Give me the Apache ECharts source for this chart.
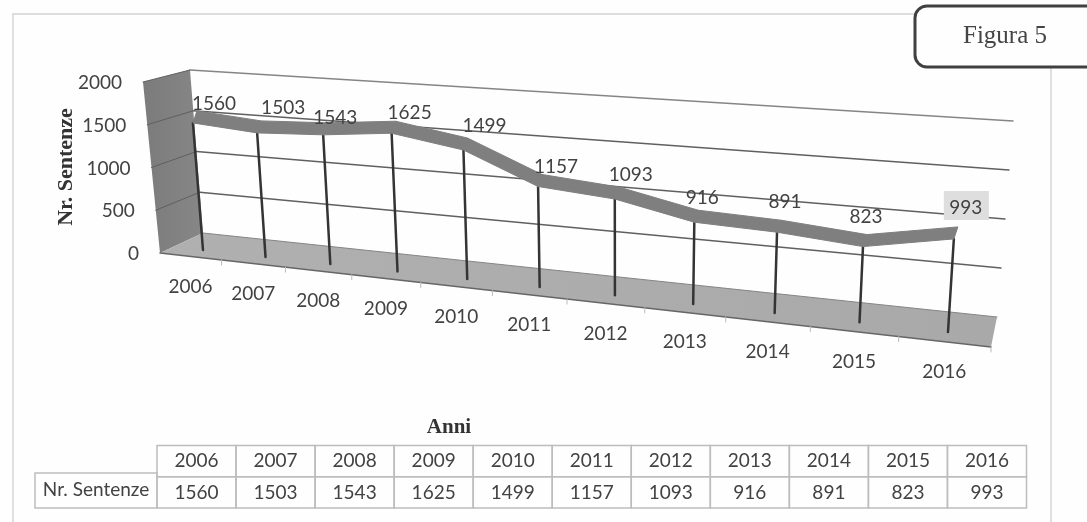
<!DOCTYPE html>
<html><head><meta charset="utf-8">
<style>html,body{margin:0;padding:0;background:#fefefe}#c{width:1087px;height:522px}</style>
<script src="https://cdn.jsdelivr.net/npm/echarts@6/dist/echarts.min.js"></script>
</head><body><div id="c"></div>
<script>
// ---- data ----
var years = ['2006','2007','2008','2009','2010','2011','2012','2013','2014','2015','2016'];
var sentenze = [1560,1503,1543,1625,1499,1157,1093,916,891,823,993];
var yTicks = [0,500,1000,1500,2000];
var seriesName = 'Nr. Sentenze';

// ---- layout of the 3D look ----
var FONT = 'Lato, "Open Sans", sans-serif', SERIF = '"Liberation Serif", serif';
var TXT = '#424242';
var W = 1000, H = 400;
// plane of the data line: base/top of first and last category
var dataQuad = [[203,250],[948,332],[960,141],[190,86]];
var backL = [[203,233],[190,70]], backR = [[997,317],[1013,121]];
var frontL = [[160,253],[143,82]], frontR = [991,347];
var persp = 0.80, dataPersp = 0.97;
var depth = [4,-12];
// per label placement relative to the line point
var labelDx = [21,26,12,18,21,18,16,8,8,3,12];
var labelDy = [-19,-25,-17,-20,-24,-20,-24,-24,-30,-30,-31];

function squareToQuad(q){
  var x0=q[0][0],y0=q[0][1],x1=q[1][0],y1=q[1][1],x2=q[2][0],y2=q[2][1],x3=q[3][0],y3=q[3][1];
  var dx1=x1-x2,dx2=x3-x2,sx=x0-x1+x2-x3,dy1=y1-y2,dy2=y3-y2,sy=y0-y1+y2-y3;
  var den=dx1*dy2-dx2*dy1;
  var g=(sx*dy2-dx2*sy)/den,h=(dx1*sy-sx*dy1)/den;
  var a=x1-x0+g*x1,b=x3-x0+h*x3,c=x0,d=y1-y0+g*y1,e=y3-y0+h*y3,f=y0;
  return function(s,t){var w=g*s+h*t+1;return [(a*s+b*t+c)/w,(d*s+e*t+f)/w];};
}
var dataPlane = squareToQuad(dataQuad);
function lerp(a,b,t){return [a[0]+(b[0]-a[0])*t,a[1]+(b[1]-a[1])*t];}
function pf(t,w){return t*w/(1+(w-1)*t);}
function norm(api,i,v){var c=api.coord([i,v]);return [c[0]/W,1-c[1]/H];}
function dataPt(api,i,v){
  var n=norm(api,i,v),s0=0.5/years.length,s1=(years.length-0.5)/years.length;
  return dataPlane(pf((n[0]-s0)/(s1-s0),dataPersp),n[1]);
}
function frontPt(nx){return lerp(frontL[0],frontR,pf(nx,persp));}
function ln(a,b,color,width){return {type:'line',shape:{x1:a[0],y1:a[1],x2:b[0],y2:b[1]},style:{stroke:color,lineWidth:width,lineCap:'round'}};}
function poly(p,fill,stroke,lw){return {type:'polygon',shape:{points:p},style:{fill:fill,stroke:stroke||null,lineWidth:lw||0}};}
function txt(s,x,y,font,align,fill,rot){var e={type:'text',x:x,y:y,style:{text:s,x:0,y:0,font:font,fill:fill||TXT,align:align||'center',verticalAlign:'middle'}};if(rot)e.rotation=rot;return e;}

// ---- series ----
var walls = {type:'custom',xAxisIndex:0,yAxisIndex:0,clip:false,silent:true,z:1,data:[0],
  encode:{x:0,y:0},renderItem:function(){
    return {type:'group',children:[
      poly([frontL[0],frontL[1],backL[1],backL[0]],new echarts.graphic.LinearGradient(0,0,1,0,[{offset:0,color:'#7b7b7b'},{offset:1,color:'#878787'}])),
      poly([backL[0],backR[0],frontR,frontL[0]],new echarts.graphic.LinearGradient(0,0,1,0,[{offset:0,color:'#b0b0b0'},{offset:1,color:'#a9a9a9'}])),
      ln(frontL[0],frontR,'#666666',1.5),
      ln(backL[0],backR[0],'#858585',1)
    ]};
  }};
var gridLines = {type:'custom',xAxisIndex:0,yAxisIndex:0,clip:false,silent:true,z:2,
  data:yTicks.map(function(v){return [0,v];}),encode:{x:0,y:1},
  renderItem:function(p,api){
    var v=api.value(1),n=norm(api,0,v)[1];
    var a=lerp(backL[0],backL[1],n),b=lerp(backR[0],backR[1],n),f=lerp(frontL[0],frontL[1],n);
    var kids=[txt(String(v),f[0]-21,f[1]+1,'19px '+FONT,'right')];
    if(v>0){kids.push(ln(a,b,v===2000?'#858585':'#606060',1.5));kids.push(ln(f,a,'#5f5f5f',1));}
    return {type:'group',children:kids};
  }};
var xTicks = {type:'custom',xAxisIndex:0,yAxisIndex:0,clip:false,silent:true,z:2,
  data:years.map(function(y,i){return [i,0];}),encode:{x:0,y:1},
  renderItem:function(p,api){
    var i=api.value(0),n=norm(api,i,0)[0],c=frontPt(n),half=0.5/years.length;
    var t=frontPt(n+half);
    return {type:'group',children:[
      ln(t,[t[0],t[1]+5],'#bbbbbb',1),
      txt(years[i],c[0],c[1]+30,'19px '+FONT)
    ]};
  }};
var drops = {type:'custom',name:seriesName,xAxisIndex:0,yAxisIndex:0,clip:false,silent:true,z:3,
  data:sentenze.map(function(v,i){return [i,v];}),encode:{x:0,y:1},
  renderItem:function(p,api){
    var i=api.value(0),v=api.value(1);
    return ln(dataPt(api,i,0),dataPt(api,i,v),'#343434',2.5);
  }};
var ribbon = {type:'custom',name:seriesName,xAxisIndex:0,yAxisIndex:0,clip:false,silent:true,z:4,
  data:sentenze.slice(0,-1).map(function(v,i){return [i,v,sentenze[i+1]];}),encode:{x:0,y:1},
  renderItem:function(p,api){
    var i=api.value(0),a=dataPt(api,i,api.value(1)),b=dataPt(api,i+1,api.value(2));
    return poly([a,b,[b[0]+depth[0],b[1]+depth[1]],[a[0]+depth[0],a[1]+depth[1]]],'#7f7f7f','#7f7f7f',1);
  }};
var labels = {type:'custom',xAxisIndex:0,yAxisIndex:0,clip:false,silent:true,z:5,
  data:sentenze.map(function(v,i){return [i,v];}),encode:{x:0,y:1},
  renderItem:function(p,api){
    var i=api.value(0),v=api.value(1),q=dataPt(api,i,v),x=q[0]+labelDx[i],y=q[1]+labelDy[i],kids=[];
    if(i===years.length-1) kids.push({type:'rect',shape:{x:x-22,y:y-17,width:45,height:29},style:{fill:'#dedede'}});
    kids.push(txt(String(v),x,y,'19px '+FONT));
    return {type:'group',children:kids};
  }};
// table: second grid, columns and rows come from the category axes
var tableCells = {type:'custom',xAxisIndex:1,yAxisIndex:1,clip:false,silent:true,z:2,
  data:(function(){var d=[];years.forEach(function(y,i){d.push([i,0]);d.push([i,1]);});return d;})(),
  encode:{x:0,y:1},
  renderItem:function(p,api){
    var c=api.coord([api.value(0),api.value(1)]),s=api.size([1,1]);
    var d=p.dataIndex,label=d%2===0?years[d/2]:String(sentenze[(d-1)/2]);
    return {type:'group',children:[
      {type:'rect',shape:{x:c[0]-s[0]/2,y:c[1]-s[1]/2,width:s[0],height:s[1]},style:{fill:'transparent',stroke:'#bdbdbd',lineWidth:1.5}},
      txt(label,c[0],c[1],'19px '+FONT)
    ]};
  }};
var chrome = {type:'custom',xAxisIndex:0,yAxisIndex:0,clip:false,silent:true,z:0,data:[0],encode:{x:0,y:0},
  renderItem:function(){
    var c='#d4d4d4';
    return {type:'group',children:[
      ln([13,14],[13,522],c,1.5),ln([13,14],[915,14],c,1.5),ln([1051,68],[1051,522],c,1.5),
      {type:'rect',shape:{x:35,y:473,width:122,height:35},style:{fill:'transparent',stroke:'#bdbdbd',lineWidth:1.5}},
      txt(seriesName,96,490,'19px '+FONT),
      txt('Anni',449,428,'bold 21px '+SERIF,'center','#333'),
      txt(seriesName,66,167,'bold 22px '+SERIF,'center','#333',Math.PI/2),
      {type:'rect',shape:{x:915,y:6,width:200,height:61,r:12},style:{fill:'#fefefe',stroke:'#404040',lineWidth:3}},
      txt('Figura 5',1005,36,'25px '+SERIF,'center','#444')
    ]};
  }};

var option = {
  animation:false,backgroundColor:'#fefefe',
  grid:[{left:0,top:0,width:W,height:H,show:false},{left:157,top:445.5,width:869.5,height:62.5,show:false}],
  xAxis:[{type:'category',gridIndex:0,data:years,show:false},{type:'category',gridIndex:1,data:years,show:false}],
  yAxis:[{type:'value',gridIndex:0,min:0,max:2000,interval:500,show:false},
         {type:'category',gridIndex:1,inverse:true,data:['Anni',seriesName],show:false}],
  series:[chrome,walls,gridLines,xTicks,drops,ribbon,labels,tableCells]
};
echarts.init(document.getElementById('c'),null,{renderer:'canvas'}).setOption(option);
</script></body></html>
